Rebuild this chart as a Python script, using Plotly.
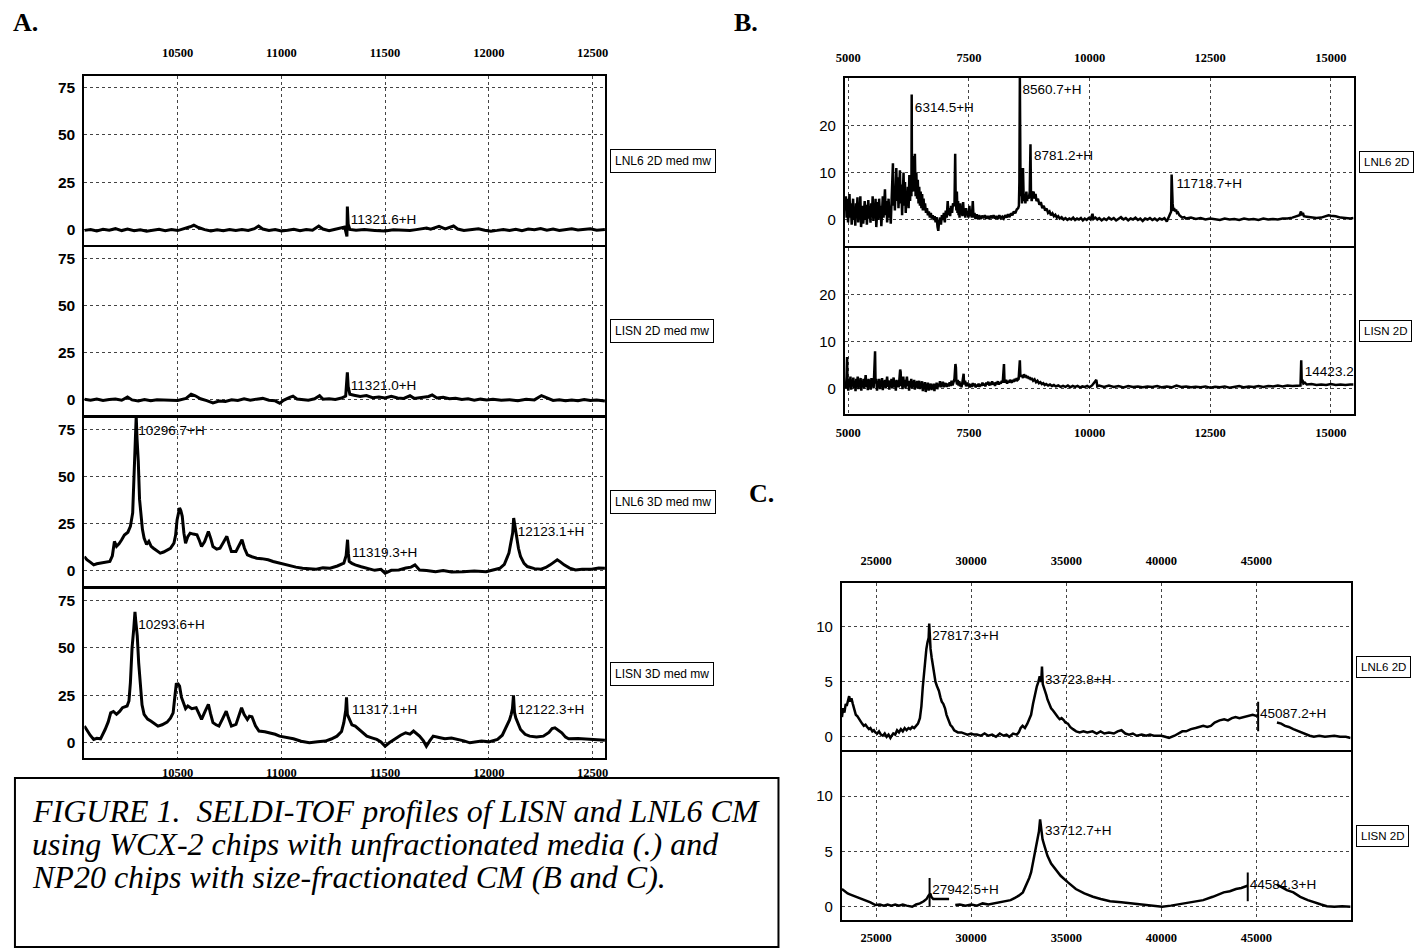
import plotly.graph_objects as go

# ---- spectra: (m/z, intensity) points ----
# A. WCX-2, unfractionated media, m/z 10050-12560
a1_lnl6_2d = [
    (10050, -0.3), (10080, 0.2), (10110, -0.6), (10140, 0.3), (10170, -0.2), (10200, 0.6),
    (10230, -0.4), (10258, 0.4), (10290, -0.5), (10320, 0.0), (10350, -0.7), (10380, -0.1),
    (10410, 0.3), (10440, -0.5), (10470, 0.2), (10500, -0.4), (10530, 0.4), (10560, 1.6),
    (10578, 2.4), (10600, 1.2), (10630, 0.1), (10660, -0.6), (10690, 0.0), (10720, -0.5),
    (10750, 0.2), (10780, -0.4), (10810, 0.1), (10840, -0.3), (10870, 0.6), (10890, 2.0),
    (10910, 0.4), (10940, -0.3), (10970, 0.2), (11000, -0.6), (11030, -0.2), (11060, 0.3),
    (11090, -0.5), (11120, 0.1), (11150, -0.2), (11180, 2.0), (11200, 0.4), (11230, -0.5),
    (11260, 0.3), (11290, 0.9), (11305, 1.5), (11316, -3.5), (11318, 12.3), (11322, 3.0),
    (11330, 0.2), (11360, -0.2), (11400, 0.1), (11450, -0.3), (11500, -0.6), (11540, 0.0),
    (11580, -0.2), (11620, -0.4), (11650, 0.1), (11680, 0.4), (11700, 0.9), (11720, 0.3),
    (11760, 1.8), (11790, 0.5), (11830, 2.0), (11850, 0.4), (11880, -0.3), (11920, 0.2),
    (11950, 0.6), (11980, -0.2), (12010, -0.7), (12040, -0.3), (12070, 0.2), (12100, -0.4),
    (12130, 0.3), (12160, -0.5), (12190, 0.4), (12220, 0.0), (12250, 0.7), (12280, -0.2),
    (12310, 0.4), (12340, -0.3), (12370, 0.2), (12400, 0.5), (12430, -0.1), (12460, 0.3),
    (12490, 0.6), (12520, -0.2), (12560, 0.1),
]
a2_lisn_2d = [
    (10050, 0.3), (10080, -0.2), (10110, 0.4), (10140, -0.3), (10170, 0.2), (10200, 0.5),
    (10230, -0.2), (10258, 1.5), (10280, 0.0), (10310, -0.6), (10340, 0.2), (10370, -0.4),
    (10400, 0.1), (10430, -0.1), (10470, 0.0), (10500, -0.3), (10540, 0.8), (10565, 3.0),
    (10585, 2.2), (10610, 0.6), (10640, -0.4), (10670, -1.6), (10700, -0.6), (10730, -0.8),
    (10760, 0.1), (10790, -0.3), (10820, 0.6), (10850, -0.2), (10880, 0.4), (10910, 0.8),
    (10940, -0.2), (10970, -0.5), (10992, -1.8), (11010, -0.2), (11040, 1.3), (11056, 2.0),
    (11075, 0.5), (11100, 0.3), (11130, -0.2), (11160, 0.6), (11184, 2.2), (11200, 0.4),
    (11230, 0.6), (11260, 0.2), (11290, 1.0), (11310, 2.0), (11318, 14.6), (11322, 7.0),
    (11330, 3.0), (11350, 2.5), (11380, 1.8), (11410, 2.3), (11440, 1.2), (11470, 1.5),
    (11500, 1.0), (11530, 1.9), (11560, 1.0), (11590, 0.8), (11620, 2.2), (11640, 0.8),
    (11680, 1.2), (11710, 1.8), (11727, 2.6), (11750, 1.0), (11780, 1.4), (11810, 0.6),
    (11840, 0.9), (11870, 0.2), (11900, 0.6), (11930, -0.2), (11960, 0.4), (11990, 0.0),
    (12020, 0.3), (12060, -0.2), (12100, 0.1), (12140, -0.4), (12180, 0.3), (12220, 0.0),
    (12254, 2.3), (12280, 1.0), (12310, -0.3), (12340, 0.1), (12370, -0.5), (12400, 0.0),
    (12430, -0.4), (12460, 0.2), (12490, -0.3), (12520, -0.1), (12560, -0.6),
]
a3_lnl6_3d = [
    (10050, 7.6), (10062, 5.9), (10080, 4.5), (10095, 3.2), (10110, 3.8), (10128, 4.1),
    (10150, 4.4), (10173, 5.0), (10185, 8.0), (10195, 15.6), (10205, 13.0), (10217, 14.4),
    (10230, 16.5), (10243, 19.0), (10260, 20.5), (10272, 23.6), (10283, 30.7), (10290, 50.0),
    (10296, 72.0), (10300, 82.0), (10304, 70.0), (10310, 58.0), (10316, 38.0), (10321, 30.7),
    (10330, 22.0), (10338, 17.4), (10350, 14.0), (10361, 15.6), (10372, 13.0), (10383, 12.0),
    (10400, 10.5), (10416, 9.4), (10432, 10.0), (10449, 11.2), (10465, 12.0), (10482, 14.7),
    (10490, 19.0), (10497, 27.0), (10509, 33.3), (10515, 32.0), (10522, 28.9), (10530, 20.0),
    (10538, 14.7), (10548, 18.0), (10560, 20.0), (10575, 19.5), (10593, 19.1), (10605, 16.0),
    (10615, 12.9), (10630, 15.5), (10648, 20.9), (10660, 17.0), (10670, 12.9), (10688, 11.5),
    (10704, 12.0), (10720, 15.0), (10737, 18.3), (10748, 14.0), (10759, 10.3), (10781, 10.3),
    (10795, 13.0), (10810, 16.5), (10822, 12.0), (10836, 8.5), (10858, 7.5), (10881, 6.7),
    (10905, 6.5), (10936, 5.9), (10960, 5.0), (10991, 4.1), (11012, 3.5), (11035, 2.7),
    (11070, 2.0), (11102, 1.4), (11135, 1.2), (11168, 0.9), (11200, 1.6), (11235, 1.4),
    (11270, 2.6), (11301, 4.1), (11312, 8.0), (11319, 16.5), (11323, 9.0), (11327, 5.0),
    (11340, 4.0), (11356, 3.2), (11385, 2.2), (11412, 1.4), (11450, 0.3), (11480, 0.8),
    (11500, -1.2), (11530, 0.3), (11566, 0.5), (11600, 1.5), (11625, 2.0), (11644, 3.2),
    (11655, 2.0), (11666, 0.5), (11700, 0.2), (11743, -0.4), (11780, 0.2), (11820, -0.6),
    (11876, -0.4), (11930, 0.0), (11987, -0.4), (12020, 0.5), (12053, 1.4), (12075, 3.5),
    (12097, 9.4), (12108, 16.0), (12115, 20.0), (12120, 28.0), (12124, 25.0), (12133, 18.3),
    (12143, 12.0), (12153, 7.6), (12170, 4.0), (12186, 2.3), (12220, 1.2), (12252, 0.9),
    (12275, 1.8), (12296, 3.2), (12315, 5.0), (12330, 5.9), (12345, 4.8), (12363, 3.2),
    (12390, 1.5), (12418, 0.5), (12450, 0.9), (12496, 0.9), (12530, 1.5), (12560, 1.4),
]
a4_lisn_3d = [
    (10050, 8.8), (10062, 6.7), (10078, 4.0), (10095, 1.8), (10110, 2.4), (10128, 2.1),
    (10140, 4.5), (10150, 7.0), (10165, 11.0), (10177, 15.8), (10190, 16.5), (10205, 15.0),
    (10220, 16.5), (10234, 18.5), (10256, 19.4), (10265, 22.0), (10272, 31.7), (10280, 50.0),
    (10288, 59.9), (10294, 69.0), (10298, 64.0), (10305, 56.3), (10312, 42.0), (10318, 31.7),
    (10328, 20.0), (10338, 15.0), (10355, 12.5), (10372, 11.4), (10390, 10.0), (10405, 8.8),
    (10425, 9.5), (10449, 10.9), (10465, 13.0), (10478, 15.8), (10486, 24.0), (10493, 30.8),
    (10502, 31.0), (10509, 29.9), (10518, 24.0), (10527, 21.1), (10538, 18.0), (10549, 19.4),
    (10568, 18.0), (10589, 18.5), (10602, 15.0), (10615, 12.3), (10632, 16.5), (10648, 20.2),
    (10658, 15.5), (10670, 10.6), (10685, 9.5), (10699, 8.8), (10718, 13.0), (10734, 16.7),
    (10745, 13.0), (10759, 8.8), (10781, 9.7), (10795, 14.0), (10808, 18.5), (10820, 15.0),
    (10836, 12.3), (10846, 14.0), (10858, 13.7), (10875, 9.0), (10892, 6.2), (10920, 5.8),
    (10947, 5.3), (10970, 4.5), (10991, 3.5), (11025, 2.8), (11058, 2.1), (11095, 0.8),
    (11135, 0.0), (11175, 0.5), (11212, 0.9), (11240, 2.0), (11268, 3.5), (11290, 6.0),
    (11301, 10.6), (11310, 17.0), (11314, 24.0), (11318, 15.0), (11327, 12.3), (11340, 9.5),
    (11356, 8.8), (11385, 6.0), (11412, 3.5), (11440, 2.5), (11460, 1.8), (11480, 0.5),
    (11500, -1.8), (11520, 0.0), (11555, 2.6), (11575, 4.0), (11599, 5.3), (11620, 4.6),
    (11637, 6.2), (11650, 5.0), (11666, 3.5), (11685, 1.0), (11699, -1.8), (11715, 1.0),
    (11732, 3.5), (11760, 2.8), (11788, 2.1), (11820, 2.5), (11854, 1.8), (11880, 1.0),
    (11909, 0.0), (11935, 0.5), (11965, 0.9), (12000, 0.5), (12042, 1.8), (12065, 4.0),
    (12086, 8.8), (12100, 12.0), (12108, 15.0), (12114, 18.0), (12119, 25.0), (12124, 16.0),
    (12130, 13.2), (12140, 10.0), (12153, 7.0), (12175, 4.5), (12197, 3.5), (12230, 3.0),
    (12263, 3.5), (12290, 5.5), (12305, 7.5), (12319, 7.9), (12335, 6.5), (12352, 5.3),
    (12370, 3.0), (12385, 2.1), (12430, 2.3), (12473, 2.1), (12510, 1.8), (12560, 1.4),
]

# B. NP20, size-fractionated CM, m/z 4930-15470
b1_lnl6_2d = [
    (4935, 2.0), (4950, 5.0), (4965, 0.5), (4980, 4.5), (4995, -0.5), (5010, 3.0), (5025, 5.5),
    (5040, 0.5), (5055, 3.5), (5070, -1.0), (5085, 2.5), (5100, 4.5), (5115, 0.0), (5130, 2.0),
    (5145, -1.2), (5160, 3.5), (5175, 1.0), (5190, 4.8), (5205, -0.5), (5220, 2.5), (5235, 0.5),
    (5250, 5.0), (5265, -1.5), (5280, 1.5), (5295, 3.0), (5310, -0.8), (5325, 2.0), (5340, 4.0),
    (5355, 0.0), (5370, 3.2), (5385, -1.0), (5400, 1.5), (5415, 4.2), (5430, 0.3), (5445, 2.8),
    (5460, -0.6), (5475, 3.5), (5490, 1.0), (5505, 5.0), (5520, -0.2), (5535, 2.5), (5550, 0.8),
    (5565, 4.5), (5580, -1.5), (5595, 2.0), (5610, 3.8), (5625, 0.0), (5640, 4.5), (5655, 1.2),
    (5670, 3.0), (5685, -1.3), (5700, 2.2), (5715, 5.0), (5730, 0.5), (5745, 3.5), (5760, 6.5),
    (5775, 1.0), (5790, 4.0), (5805, -0.5), (5820, 2.8), (5835, 4.5), (5850, 0.5), (5865, 3.0),
    (5880, -0.8), (5895, 2.5), (5910, 5.5), (5925, 12.0), (5935, 3.0), (5950, 7.0), (5965, 2.0),
    (5980, 8.5), (5995, 11.0), (6010, 4.0), (6025, 9.0), (6040, 2.5), (6055, 6.0), (6070, 10.5),
    (6085, 3.5), (6100, 7.5), (6115, 1.0), (6130, 5.0), (6145, 10.0), (6160, 3.0), (6175, 8.0),
    (6190, 1.5), (6205, 5.5), (6220, 3.0), (6235, 7.0), (6250, 2.5), (6265, 9.5), (6280, 4.0),
    (6295, 8.0), (6308, 5.0), (6314, 26.5), (6320, 6.0), (6335, 9.5), (6350, 13.5), (6365, 6.0),
    (6380, 14.0), (6395, 5.0), (6410, 10.0), (6425, 4.5), (6440, 8.5), (6455, 3.5), (6470, 7.0),
    (6485, 3.0), (6500, 6.0), (6515, 2.5), (6530, 5.5), (6545, 2.0), (6560, 4.5), (6575, 2.0),
    (6590, 3.5), (6610, 1.5), (6630, 2.5), (6650, 1.0), (6670, 1.8), (6690, 0.5), (6710, 1.5),
    (6730, 0.3), (6750, 1.0), (6770, 0.0), (6790, 0.8), (6810, -0.5), (6830, 0.6), (6850, -1.5),
    (6865, -2.3), (6880, -0.5), (6900, 0.5), (6920, -1.0), (6940, 1.0), (6960, 0.0), (6980, 1.5),
    (7000, -0.5), (7020, 2.0), (7040, 0.5), (7060, 4.0), (7075, 1.0), (7090, 2.5), (7110, 0.8),
    (7130, 3.0), (7150, 1.5), (7170, 3.5), (7200, 3.0), (7215, 14.0), (7225, 5.0), (7240, 2.0),
    (7250, 6.0), (7262, 1.5), (7275, 4.0), (7285, 1.0), (7295, 3.0), (7305, 0.5), (7320, 3.5),
    (7335, 1.2), (7350, 2.5), (7365, 0.8), (7380, 3.8), (7395, 1.0), (7410, 2.0), (7425, 0.5),
    (7440, 2.5), (7455, 1.0), (7470, 1.8), (7490, 0.5), (7510, 3.0), (7525, 0.8), (7540, 1.8),
    (7560, 0.5), (7580, 4.0), (7595, 0.5), (7615, 1.5), (7635, 0.2), (7660, 1.2), (7685, 0.3),
    (7710, 1.0), (7740, 0.2), (7770, 0.9), (7800, 0.4), (7830, 1.0), (7860, 0.3), (7890, 0.8),
    (7920, 0.2), (7950, 0.9), (7980, 0.4), (8010, 1.0), (8040, 0.3), (8070, 0.8), (8100, 0.2),
    (8130, 1.0), (8160, 0.4), (8190, 0.7), (8220, 0.3), (8250, 1.0), (8280, 0.5), (8310, 1.2),
    (8340, 0.6), (8370, 1.4), (8400, 1.0), (8430, 1.8), (8460, 1.4), (8490, 2.2), (8520, 2.5),
    (8535, 3.0), (8545, 8.0), (8555, 30.0), (8562, 24.0), (8570, 5.0), (8585, 11.0), (8600, 3.5),
    (8620, 11.0), (8635, 4.0), (8650, 5.5), (8670, 3.5), (8690, 6.0), (8705, 4.0), (8720, 5.0),
    (8740, 4.5), (8760, 6.0), (8775, 16.0), (8785, 6.0), (8800, 4.0), (8820, 5.5), (8840, 6.0),
    (8860, 4.5), (8880, 5.5), (8900, 4.0), (8930, 4.5), (8960, 3.2), (8990, 3.8), (9020, 2.5),
    (9050, 3.0), (9080, 2.0), (9110, 2.4), (9140, 1.5), (9170, 1.8), (9200, 1.0), (9230, 1.4),
    (9260, 0.8), (9290, 1.1), (9320, 0.5), (9350, 0.8), (9380, 0.3), (9420, 0.6), (9460, 0.1),
    (9500, 0.4), (9540, 0.0), (9580, 0.3), (9620, 0.1), (9660, 0.5), (9700, 0.0), (9740, 0.3),
    (9780, 0.1), (9820, 0.4), (9860, -0.1), (9900, 0.3), (9940, 0.0), (9980, 0.4), (10020, 0.1),
    (10060, 1.3), (10080, 0.2), (10120, 0.5), (10160, 0.1), (10200, 0.4), (10250, -0.1),
    (10300, 0.3), (10350, 0.0), (10400, 0.5), (10450, 0.1), (10500, 0.4), (10550, -0.1),
    (10600, 0.3), (10650, 0.6), (10700, 0.1), (10750, 0.4), (10800, -0.1), (10850, 0.3),
    (10900, 0.1), (10950, 0.5), (11000, 0.0), (11050, 0.3), (11100, -0.2), (11150, 0.3),
    (11200, 0.1), (11250, 0.4), (11300, 0.0), (11350, 0.3), (11400, -0.1), (11450, 0.3),
    (11500, 0.1), (11550, 0.4), (11600, -0.3), (11640, 0.6), (11670, 1.2), (11690, 1.8),
    (11700, 9.6), (11708, 4.0), (11720, 3.5), (11735, 2.0), (11750, 2.5), (11770, 1.8),
    (11790, 2.2), (11810, 1.5), (11830, 1.6), (11860, 1.0), (11890, 0.8), (11920, 0.5),
    (11960, 0.6), (12000, 0.3), (12100, 0.5), (12200, 0.2), (12300, 0.4), (12400, 0.1),
    (12500, 0.3), (12600, 0.2), (12700, 0.0), (12800, 0.3), (12900, 0.1), (13000, 0.2),
    (13100, 0.0), (13200, 0.3), (13300, 0.1), (13400, 0.2), (13500, 0.0), (13600, 0.3),
    (13700, 0.1), (13800, 0.2), (13900, 0.1), (14000, 0.3), (14100, 0.3), (14200, 0.5),
    (14300, 0.8), (14350, 1.0), (14380, 1.8), (14400, 1.0), (14420, 1.5), (14440, 0.8),
    (14500, 0.7), (14600, 0.5), (14700, 0.4), (14800, 0.5), (14900, 0.8), (14950, 1.0),
    (15000, 0.9), (15100, 0.8), (15200, 0.5), (15300, 0.4), (15400, 0.3), (15470, 0.4),
]
b2_lisn_2d = [
    (4935, 1.0), (4950, 0.0), (4965, 2.5), (4975, 6.7), (4985, 1.0), (5000, -0.5), (5015, 2.0),
    (5030, 0.5), (5045, 2.5), (5060, -0.3), (5075, 1.8), (5090, 0.8), (5105, 2.3), (5120, 0.0),
    (5135, 1.5), (5150, -0.6), (5165, 2.0), (5180, 0.5), (5195, 2.5), (5210, -0.2), (5225, 1.5),
    (5240, 0.8), (5255, 2.2), (5270, -0.5), (5285, 1.6), (5300, 0.4), (5315, 2.0), (5330, 0.0),
    (5345, 1.3), (5360, 2.8), (5375, 0.3), (5390, 1.8), (5405, -0.4), (5420, 2.0), (5435, 0.6),
    (5450, 1.5), (5465, -0.3), (5480, 2.2), (5495, 0.5), (5510, 1.8), (5525, 0.0), (5545, 7.0),
    (5555, 7.9), (5565, 1.0), (5580, 2.0), (5595, -0.5), (5610, 1.5), (5625, 0.3), (5640, 2.0),
    (5655, -0.2), (5670, 1.6), (5685, 0.5), (5700, 2.2), (5715, -0.4), (5730, 1.4), (5745, 0.6),
    (5760, 1.8), (5775, 0.0), (5790, 1.5), (5805, 2.5), (5820, 0.3), (5835, 1.7), (5850, -0.3),
    (5865, 1.5), (5880, 0.6), (5895, 2.0), (5910, 0.0), (5925, 1.4), (5940, 2.3), (5955, 0.2),
    (5970, 1.6), (5985, -0.5), (6000, 1.8), (6015, 0.5), (6030, 1.4), (6045, 0.2), (6060, 2.0),
    (6075, 4.0), (6085, 3.5), (6095, 0.5), (6110, 1.5), (6125, -0.2), (6140, 2.5), (6155, 0.4),
    (6170, 1.8), (6185, 0.0), (6200, 1.2), (6215, 2.5), (6230, 0.5), (6245, 1.5), (6260, -0.5),
    (6275, 1.6), (6290, 0.4), (6305, 2.0), (6320, 0.0), (6335, 1.3), (6350, 0.6), (6365, 1.8),
    (6380, -0.3), (6395, 1.2), (6410, 0.4), (6425, 1.6), (6440, 0.0), (6455, 1.0), (6470, 1.6),
    (6485, -0.2), (6500, 1.2), (6515, 0.3), (6530, 1.5), (6545, -0.6), (6560, 1.0), (6575, 0.2),
    (6590, 1.3), (6605, -0.8), (6620, 0.9), (6635, 0.2), (6650, 1.2), (6665, -0.5), (6680, 0.8),
    (6695, 0.3), (6710, 1.0), (6725, -0.4), (6740, 0.8), (6755, 0.1), (6770, 1.0), (6785, -0.6),
    (6800, 0.9), (6815, 0.2), (6830, 1.2), (6845, -0.2), (6860, 1.0), (6880, 0.4), (6900, 1.5),
    (6915, 0.2), (6930, 1.0), (6945, 0.5), (6960, 1.4), (6975, 0.2), (6990, 1.2), (7005, 0.4),
    (7020, 1.1), (7040, 0.3), (7060, 1.0), (7080, 0.4), (7100, 1.3), (7120, 0.5), (7140, 1.6),
    (7160, 0.6), (7180, 1.2), (7200, 2.0), (7220, 5.2), (7230, 4.5), (7240, 1.5), (7255, 0.8),
    (7270, 1.8), (7285, 0.6), (7300, 1.5), (7315, 0.4), (7330, 1.2), (7345, 0.2), (7360, 1.0),
    (7380, 2.5), (7390, 3.1), (7400, 0.8), (7420, 1.6), (7440, 0.4), (7460, 1.2), (7480, 0.5),
    (7500, 1.0), (7520, 0.2), (7540, 0.9), (7560, 0.3), (7580, 1.1), (7600, 0.5), (7620, 1.0),
    (7640, 0.2), (7660, 0.8), (7680, 0.4), (7700, 1.0), (7720, 0.3), (7740, 0.9), (7760, 0.5),
    (7780, 1.2), (7800, 0.6), (7820, 1.0), (7840, 0.4), (7860, 1.2), (7880, 0.8), (7900, 1.4),
    (7920, 0.6), (7940, 1.2), (7960, 0.7), (7980, 1.5), (8000, 0.8), (8020, 1.2), (8040, 0.5),
    (8060, 1.3), (8080, 0.9), (8100, 1.5), (8120, 0.8), (8140, 1.3), (8160, 1.0), (8180, 1.6),
    (8200, 1.2), (8215, 4.5), (8226, 5.2), (8235, 2.0), (8250, 1.2), (8270, 1.8), (8290, 1.0),
    (8310, 1.6), (8330, 1.2), (8350, 1.8), (8370, 1.4), (8390, 1.2), (8410, 1.8), (8430, 1.4),
    (8450, 2.0), (8470, 1.5), (8490, 2.2), (8510, 1.8), (8530, 2.0), (8545, 5.5), (8555, 6.0),
    (8565, 3.0), (8580, 2.5), (8600, 2.8), (8620, 2.2), (8640, 3.0), (8660, 2.4), (8680, 2.8),
    (8700, 2.2), (8720, 2.6), (8740, 2.0), (8760, 2.4), (8780, 1.8), (8800, 2.2), (8830, 1.6),
    (8860, 1.9), (8890, 1.3), (8920, 1.6), (8950, 1.1), (8980, 1.3), (9010, 0.9), (9040, 1.1),
    (9070, 0.7), (9100, 0.9), (9140, 0.6), (9180, 0.8), (9220, 0.5), (9260, 0.7), (9300, 0.4),
    (9350, 0.6), (9400, 0.3), (9450, 0.5), (9500, 0.3), (9550, 0.6), (9600, 0.2), (9650, 0.5),
    (9700, 0.3), (9750, 0.5), (9800, 0.2), (9850, 0.4), (9900, 0.3), (9950, 0.5), (10000, 0.2),
    (10050, 0.6), (10100, 1.4), (10140, 1.8), (10160, 0.4), (10200, 0.6), (10300, 0.3),
    (10400, 0.6), (10500, 0.3), (10600, 0.5), (10700, 0.2), (10800, 0.5), (10900, 0.3),
    (11000, 0.4), (11100, 0.2), (11200, 0.4), (11300, 0.3), (11400, 0.5), (11500, 0.2),
    (11600, 0.4), (11700, 0.2), (11800, 0.6), (11900, 0.3), (12000, 0.4), (12100, 0.2),
    (12200, 0.3), (12300, 0.2), (12400, 0.4), (12500, 0.1), (12600, 0.3), (12700, 0.2),
    (12800, 0.4), (12900, 0.1), (13000, 0.3), (13100, 0.5), (13200, 0.2), (13300, 0.4),
    (13400, 0.3), (13500, 0.5), (13600, 0.3), (13700, 0.5), (13800, 0.4), (13900, 0.6),
    (14000, 0.4), (14100, 0.6), (14200, 0.5), (14300, 0.6), (14370, 0.6), (14385, 6.0),
    (14395, 1.5), (14410, 1.8), (14430, 1.0), (14460, 1.2), (14500, 0.8), (14600, 0.9),
    (14700, 0.7), (14800, 0.8), (14900, 0.7), (15000, 0.9), (15100, 0.7), (15200, 0.8),
    (15300, 0.7), (15400, 0.8), (15470, 0.8),
]

# C. NP20, size-fractionated CM, m/z 23200-49950 (None = gap under a label)
c1_lnl6_2d = [
    (23200, 1.8), (23260, 2.6), (23330, 2.2), (23400, 3.0), (23450, 2.8), (23520, 3.4),
    (23580, 3.7), (23640, 3.2), (23700, 3.5), (23772, 3.0), (23850, 2.4), (23930, 2.0),
    (24000, 1.9), (24095, 1.6), (24180, 1.4), (24260, 1.2), (24350, 1.0), (24440, 1.1),
    (24526, 0.9), (24620, 0.7), (24700, 0.8), (24800, 0.5), (24880, 0.6), (24957, 0.4),
    (25050, 0.3), (25150, 0.5), (25250, 0.2), (25350, 0.1), (25450, 0.3), (25550, 0.0),
    (25650, 0.2), (25750, -0.1), (25819, 0.1), (25900, 0.3), (26000, 0.2), (26100, 0.6),
    (26200, 0.4), (26300, 0.7), (26400, 0.5), (26500, 0.8), (26600, 0.6), (26700, 0.8),
    (26800, 0.7), (26900, 0.9), (27000, 0.8), (27100, 1.0), (27200, 1.2), (27300, 1.7),
    (27380, 2.8), (27450, 4.5), (27520, 5.8), (27580, 7.2), (27640, 8.0), (27700, 8.6),
    (27760, 9.0), (27790, 10.3), (27820, 8.5), (27860, 8.0), (27920, 7.2), (27980, 6.4),
    (28050, 5.6), (28120, 5.0), (28200, 4.6), (28297, 4.2), (28380, 3.6), (28450, 3.2),
    (28530, 3.0), (28621, 2.6), (28700, 2.0), (28800, 1.5), (28900, 1.1), (29000, 0.9),
    (29100, 0.6), (29200, 0.5), (29300, 0.4), (29483, 0.4), (29600, 0.3), (29800, 0.2),
    (30000, 0.3), (30129, 0.2), (30300, 0.2), (30500, 0.1), (30700, 0.3), (30900, 0.1),
    (31100, 0.2), (31300, 0.0), (31500, 0.3), (31700, 0.1), (31853, 0.2), (32000, 0.0),
    (32200, 0.3), (32400, 0.2), (32500, 0.4), (32600, 0.8), (32700, 1.0), (32823, 0.8),
    (32950, 1.2), (33050, 1.6), (33147, 2.0), (33250, 3.0), (33362, 4.0), (33450, 4.6),
    (33530, 5.0), (33600, 5.5), (33680, 5.0), (33720, 6.4), (33760, 4.8), (33850, 4.4),
    (33950, 3.8), (34009, 3.4), (34100, 3.0), (34200, 2.6), (34300, 2.4), (34440, 2.0),
    (34550, 1.8), (34650, 1.6), (34750, 1.7), (34871, 1.5), (34950, 1.3), (35086, 1.2),
    (35200, 0.9), (35350, 0.7), (35517, 0.5), (35700, 0.4), (35900, 0.5), (36100, 0.4),
    (36379, 0.5), (36600, 0.3), (36800, 0.5), (37000, 0.3), (37241, 0.4), (37500, 0.3),
    (37700, 0.5), (37900, 0.6), (38103, 0.3), (38300, 0.2), (38500, 0.3), (38700, 0.1),
    (38966, 0.2), (39200, 0.1), (39400, 0.2), (39600, 0.1), (39828, 0.1), (40000, 0.1),
    (40200, 0.0), (40400, -0.1), (40690, 0.1), (40900, 0.3), (41100, 0.5), (41300, 0.5),
    (41552, 0.7), (41800, 0.8), (42000, 0.9), (42200, 1.0), (42414, 0.9), (42600, 1.0),
    (42800, 1.3), (43060, 1.5), (43300, 1.6), (43500, 1.5), (43707, 1.7), (43900, 1.8),
    (44100, 1.7), (44300, 1.8), (44569, 1.9), (44800, 2.0), (45000, 1.9), (45087, 2.0),
    (None, None),
    (46077, 1.3), (46300, 1.2), (46500, 1.0), (46700, 0.9), (46940, 0.7), (47200, 0.5),
    (47500, 0.3), (47800, 0.1), (48017, 0.0), (48300, 0.1), (48600, 0.0), (48900, 0.1),
    (49095, 0.1), (49400, 0.0), (49700, 0.0), (49950, -0.1),
]
c2_lisn_2d = [
    (23200, 1.6), (23350, 1.4), (23500, 1.2), (23650, 1.1), (23800, 1.0), (23950, 0.9),
    (24100, 0.8), (24310, 0.6), (24500, 0.5), (24700, 0.4), (24957, 0.15), (25200, 0.2),
    (25400, 0.1), (25600, 0.2), (25800, 0.1), (26000, 0.2), (26200, 0.1), (26400, 0.2),
    (26600, 0.1), (26897, 0.0), (27100, 0.2), (27300, 0.3), (27500, 0.5), (27651, 0.7),
    (27750, 1.0), (27850, 1.2), (27900, 0.9), (28000, 0.7), (28200, 0.7), (28500, 0.7),
    (28836, 0.7),
    (None, None),
    (29160, 0.15), (29400, 0.2), (29700, 0.1), (30000, 0.2), (30300, 0.1), (30600, 0.3),
    (30900, 0.2), (31207, 0.3), (31500, 0.4), (31800, 0.5), (32069, 0.6), (32300, 0.8),
    (32500, 1.0), (32715, 1.3), (32900, 2.0), (33050, 2.6), (33147, 3.1), (33300, 4.4),
    (33400, 5.5), (33470, 6.1), (33560, 6.8), (33621, 7.9), (33680, 6.8), (33750, 6.1),
    (33850, 5.5), (34009, 4.6), (34200, 3.9), (34440, 3.4), (34700, 2.8), (35086, 2.2),
    (35500, 1.6), (35948, 1.2), (36400, 0.9), (36810, 0.7), (37300, 0.5), (37888, 0.4),
    (38400, 0.3), (38966, 0.15), (39500, 0.1), (40043, 0.0), (40500, 0.1), (41121, 0.3),
    (41600, 0.4), (42198, 0.6), (42700, 0.9), (43276, 1.3), (43600, 1.4), (43922, 1.6),
    (44200, 1.7), (44526, 1.9),
    (None, None),
    (46077, 2.0), (46300, 1.8), (46600, 1.5), (46940, 1.3), (47300, 0.9), (47700, 0.6),
    (48017, 0.4), (48400, 0.2), (48700, 0.05), (49095, 0.0), (49500, 0.05), (49950, 0.0),
]

# peak marker ticks: (m/z, low, high)
c1_ticks = [(45087, 0.5, 3.2)]
c2_ticks = [(27810, 0.0, 2.6), (44540, 0.5, 3.1)]

# peak labels: (text, m/z where text starts, intensity)
a1_labels = [("11321.6+H", 11335, 5.0)]
a2_labels = [("11321.0+H", 11335, 6.8)]
a3_labels = [("10296.7+H", 10310, 74), ("11319.3+H", 11340, 9.4), ("12123.1+H", 12140, 20.4)]
a4_labels = [("10293.6+H", 10310, 61.5), ("11317.1+H", 11340, 16.7), ("12122.3+H", 12140, 17)]
b1_labels = [("6314.5+H", 6380, 23.6), ("8560.7+H", 8610, 27.4), ("8781.2+H", 8850, 13.4),
             ("11718.7+H", 11800, 7.5)]
b2_labels = [("14423.2+H", 14460, 3.3)]
c1_labels = [("27817.3+H", 27950, 9.1), ("33723.8+H", 33880, 5.1), ("45087.2+H", 45180, 2.0)]
c2_labels = [("27942.5+H", 27950, 1.5), ("33712.7+H", 33880, 6.8), ("44584.3+H", 44650, 1.9)]

a_ticks_x = [10500, 11000, 11500, 12000, 12500]
b_ticks_x = [5000, 7500, 10000, 12500, 15000]
c_ticks_x = [25000, 30000, 35000, 40000, 45000]

W, H = 1426, 949


def px(x):
    return x / W


def py(y):
    return 1 - y / H


# each panel: data, labels, ticks, box (left, right, top, bottom px), x range, y range,
# x ticks, y ticks, side of x labels, label standoff, side box name, bold y labels
panels = [
    (a1_lnl6_2d, a1_labels, [], (76, 601, 76, 245), [10050, 12560], [-8, 81], a_ticks_x, [0, 25, 50, 75], "top", 12, "LNL6 2D med mw", True),
    (a2_lisn_2d, a2_labels, [], (76, 601, 247, 415), [10050, 12560], [-8, 81], a_ticks_x, [0, 25, 50, 75], None, 0, "LISN 2D med mw", True),
    (a3_lnl6_3d, a3_labels, [], (76, 601, 418, 586), [10050, 12560], [-8, 81], a_ticks_x, [0, 25, 50, 75], None, 0, "LNL6 3D med mw", True),
    (a4_lisn_3d, a4_labels, [], (76, 601, 589, 758), [10050, 12560], [-8, 81], a_ticks_x, [0, 25, 50, 75], "bottom", 2, "LISN 3D med mw", True),
    (b1_lnl6_2d, b1_labels, [], (843, 1356, 78, 246), [4930, 15470], [-5.5, 30], b_ticks_x, [0, 10, 20], "top", 9, "LNL6 2D", False),
    (b2_lisn_2d, b2_labels, [], (843, 1356, 248, 414), [4930, 15470], [-5.5, 30], b_ticks_x, [0, 10, 20], "bottom", 6, "LISN 2D", False),
    (c1_lnl6_2d, c1_labels, c1_ticks, (840, 1353, 583, 750), [23200, 49950], [-1.2, 14], c_ticks_x, [0, 5, 10], "top", 11, "LNL6 2D", False),
    (c2_lisn_2d, c2_labels, c2_ticks, (840, 1353, 752, 920), [23200, 49950], [-1.2, 14], c_ticks_x, [0, 5, 10], "bottom", 5, "LISN 2D", False),
]

fig = go.Figure()
layout = dict(
    width=W, height=H, margin=dict(l=0, r=0, t=0, b=0),
    paper_bgcolor="white", plot_bgcolor="white", showlegend=False,
    annotations=[], shapes=[],
)

for i, (pts, labels, ticks, box, xr, yr, xt, yt, side, standoff, name, ybold) in enumerate(panels, start=1):
    xa, ya = "x%d" % i, "y%d" % i
    mz = [p[0] for p in pts]
    inten = [p[1] for p in pts]
    fig.add_trace(go.Scatter(x=mz, y=inten, mode="lines", xaxis=xa, yaxis=ya,
                             line=dict(color="black", width=3 if ybold else 2.5),
                             hoverinfo="skip", connectgaps=False))
    for (m, lo, hi) in ticks:
        fig.add_trace(go.Scatter(x=[m, m], y=[lo, hi], mode="lines", xaxis=xa, yaxis=ya,
                                 line=dict(color="black", width=2), hoverinfo="skip"))
    fig.add_trace(go.Scatter(
        x=[l[1] for l in labels], y=[l[2] for l in labels], text=[l[0] for l in labels],
        mode="text", textposition="middle right", cliponaxis=True, xaxis=xa, yaxis=ya,
        textfont=dict(family="Liberation Sans", size=13.5, color="black"), hoverinfo="skip"))

    left, right, top, bottom = box
    layout["xaxis%d" % i] = dict(
        domain=[px(left), px(right)], range=xr, anchor=ya,
        tickvals=xt, ticktext=[str(t) for t in xt],
        showticklabels=side is not None, side=side or "bottom",
        tickfont=dict(family="Liberation Serif", size=12.5, color="black", weight="bold"),
        ticklabelstandoff=standoff, ticks="",
        showgrid=True, gridcolor="#444", griddash="dot", gridwidth=1,
        showline=True, mirror=True, linecolor="black", linewidth=2, zeroline=False,
    )
    layout["yaxis%d" % i] = dict(
        domain=[py(bottom), py(top)], range=yr, anchor=xa, tickvals=yt,
        tickfont=dict(family="Liberation Sans", size=15.5 if ybold else 15, color="black",
                      weight="bold" if ybold else "normal"),
        ticklabelstandoff=4, ticks="",
        showgrid=True, gridcolor="#444", griddash="dot", gridwidth=1,
        showline=True, mirror=True, linecolor="black", linewidth=2, zeroline=False,
    )
    layout["annotations"].append(dict(
        text=name, xref="paper", yref="paper", x=px(right + 5), y=py((top + bottom) / 2),
        xanchor="left", yanchor="middle", showarrow=False,
        font=dict(family="Liberation Sans", size=12 if ybold else 11.5, color="black"),
        bordercolor="black", borderwidth=1, borderpad=4, bgcolor="white",
    ))

# panel letters
for letter, lx, ly in [("A.", 2, 22), ("B.", 729, 22), ("C.", 744, 493)]:
    layout["annotations"].append(dict(
        text=letter, xref="paper", yref="paper", x=px(lx), y=py(ly),
        xanchor="left", yanchor="middle", showarrow=False,
        font=dict(family="Liberation Serif", size=26, color="black", weight="bold"),
    ))

# caption box
caption = [
    "FIGURE 1.\u00a0 SELDI-TOF profiles of LISN and LNL6 CM",
    "using WCX-2 chips with unfractionated media (.) and",
    "NP20 chips with size-fractionated CM (B and C).",
]
layout["shapes"].append(dict(type="rect", xref="paper", yref="paper",
                             x0=px(6), x1=px(776), y0=py(947), y1=py(778),
                             line=dict(color="black", width=2), fillcolor="rgba(0,0,0,0)"))
for k, line in enumerate(caption):
    layout["annotations"].append(dict(
        text=line, xref="paper", yref="paper", x=px(21), y=py(811 + 33 * k),
        xanchor="left", yanchor="middle", showarrow=False,
        font=dict(family="Liberation Serif", size=32, color="black", style="italic"),
    ))

fig.update_layout(**layout)
fig.write_html("out.html", config={"displayModeBar": False},
               post_script="document.body.style.margin='0';")
